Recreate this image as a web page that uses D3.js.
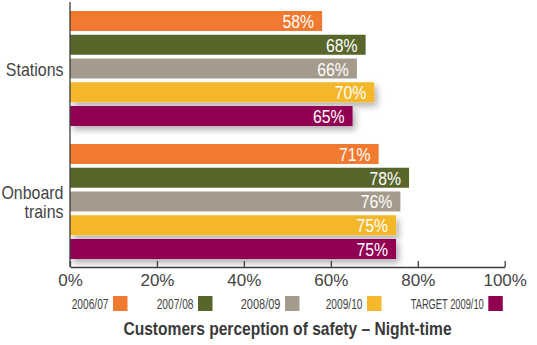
<!DOCTYPE html>
<html>
<head>
<meta charset="utf-8">
<script src="https://cdn.jsdelivr.net/npm/d3@7"></script>
<style>
  body { margin: 0; background: #fff; }
  svg { display: block; }
</style>
</head>
<body>
<div id="chart"></div>
<script>
// dados
const groups = ["Stations", "Onboard trains"];
const seriesNames = ["2006/07", "2007/08", "2008/09", "2009/10", "TARGET 2009/10"];
const stationsValues = [58, 68, 66, 70, 65];
const onboardValues = [71, 78, 76, 75, 75];
const xTicks = [0, 20, 40, 60, 80, 100];

const colors = ["#ef7a30", "#58652b", "#a59b8c", "#f5b72b", "#920052"];
const shadowed = [false, false, false, true, true];

const valuesByGroup = {
    "Stations": stationsValues,
    "Onboard trains": onboardValues
};

const width = 537, height = 345;
const axisColor = "#3c3c3c";
const textColor = "#444";
const fontFamily = "'Liberation Sans', Arial, sans-serif";

// não há fonte condensada instalada: comprime o texto na horizontal
function narrow(sel, k) {
    sel.each(function() {
        const w = this.getComputedTextLength();
        d3.select(this)
            .attr("textLength", w * k)
            .attr("lengthAdjust", "spacingAndGlyphs");
    });
}

const svg = d3.select("#chart").append("svg")
    .attr("width", width)
    .attr("height", height);

// sombra das barras amarela e roxa
const filter = svg.append("defs").append("filter")
    .attr("id", "shadow")
    .attr("x", "-10%").attr("y", "-50%")
    .attr("width", "130%").attr("height", "220%");
filter.append("feDropShadow")
    .attr("dx", 3).attr("dy", 4)
    .attr("stdDeviation", 3)
    .attr("flood-color", "#000")
    .attr("flood-opacity", 0.3);

const x = d3.scaleLinear().domain([0, 100]).range([70, 504.7]);

const y0 = d3.scaleBand()
    .domain(groups)
    .range([11, 259])
    .paddingInner(0.135);

const y1 = d3.scaleBand()
    .domain(seriesNames)
    .range([0, y0.bandwidth()])
    .paddingInner(0.158);

const rows = [];
groups.forEach(g => {
    seriesNames.forEach((s, i) => {
        rows.push({ group: g, series: s, i: i, value: valuesByGroup[g][i] });
    });
});

// barras
svg.append("g")
    .selectAll("rect")
    .data(rows)
    .enter().append("rect")
    .attr("x", x(0))
    .attr("y", d => y0(d.group) + y1(d.series))
    .attr("width", d => x(d.value) - x(0))
    .attr("height", y1.bandwidth())
    .attr("fill", d => colors[d.i])
    .attr("filter", d => shadowed[d.i] ? "url(#shadow)" : null);

// rótulos de valor
svg.append("g")
    .selectAll("text")
    .data(rows)
    .enter().append("text")
    .attr("x", d => x(d.value) - 8)
    .attr("y", d => y0(d.group) + y1(d.series) + y1.bandwidth() / 2 + 7)
    .attr("text-anchor", "end")
    .attr("fill", "#fff")
    .style("font-family", fontFamily)
    .style("font-size", "19px")
    .text(d => d.value + "%")
    .call(narrow, 0.83);

// eixo x
const axisY = 267;
const xAxis = svg.append("g")
    .attr("transform", `translate(0,${axisY})`)
    .call(d3.axisBottom(x)
        .tickValues(xTicks)
        .tickSizeInner(-6)
        .tickSizeOuter(0)
        .tickPadding(7)
        .tickFormat(d => d + "%"));
xAxis.select(".domain").attr("stroke", axisColor).attr("stroke-width", 1.3);
xAxis.selectAll(".tick line").attr("stroke", axisColor).attr("stroke-width", 1.3);
xAxis.selectAll(".tick text")
    .attr("fill", textColor)
    .style("font-family", fontFamily)
    .style("font-size", "17px");

// eixo y (só a linha)
svg.append("line")
    .attr("x1", x(0)).attr("x2", x(0))
    .attr("y1", 2).attr("y2", axisY)
    .attr("stroke", axisColor)
    .attr("stroke-width", 1.3);

// rótulos das categorias
const catLabels = svg.append("g")
    .selectAll("text")
    .data(groups)
    .enter().append("text")
    .attr("text-anchor", "end")
    .attr("fill", textColor)
    .style("font-family", fontFamily)
    .style("font-size", "19px");

catLabels.each(function(g) {
    const words = g === "Onboard trains" ? ["Onboard", "trains"] : [g];
    const cy = y0(g) + y0.bandwidth() / 2;
    const lh = 19.5;
    const start = cy + 7 - (words.length - 1) * lh / 2;
    d3.select(this).selectAll("tspan")
        .data(words)
        .enter().append("tspan")
        .attr("x", 63.5)
        .attr("y", (w, k) => start + k * lh)
        .text(w => w)
        .call(narrow, 0.84);
});

// legenda
const legendX = [71.7, 156.7, 240.7, 325.7, 410.7];
const swatchX = [113, 198, 285, 367, 488.3];
const legend = svg.append("g")
    .selectAll("g")
    .data(seriesNames)
    .enter().append("g");

legend.append("text")
    .attr("x", (d, i) => legendX[i])
    .attr("y", 309)
    .attr("fill", textColor)
    .style("font-family", fontFamily)
    .style("font-size", "14px")
    .text(d => d)
    .attr("textLength", (d, i) => swatchX[i] - legendX[i] - 4.5)
    .attr("lengthAdjust", "spacingAndGlyphs");

legend.append("rect")
    .attr("x", (d, i) => swatchX[i])
    .attr("y", 296)
    .attr("width", 14.5)
    .attr("height", 15)
    .attr("fill", (d, i) => colors[i]);

// título
svg.append("text")
    .attr("x", 287.5)
    .attr("y", 335)
    .attr("text-anchor", "middle")
    .attr("fill", "#3a3a3a")
    .style("font-family", fontFamily)
    .style("font-size", "19px")
    .style("font-weight", "bold")
    .text("Customers perception of safety \u2013 Night-time")
    .call(narrow, 0.82);
</script>
</body>
</html>
